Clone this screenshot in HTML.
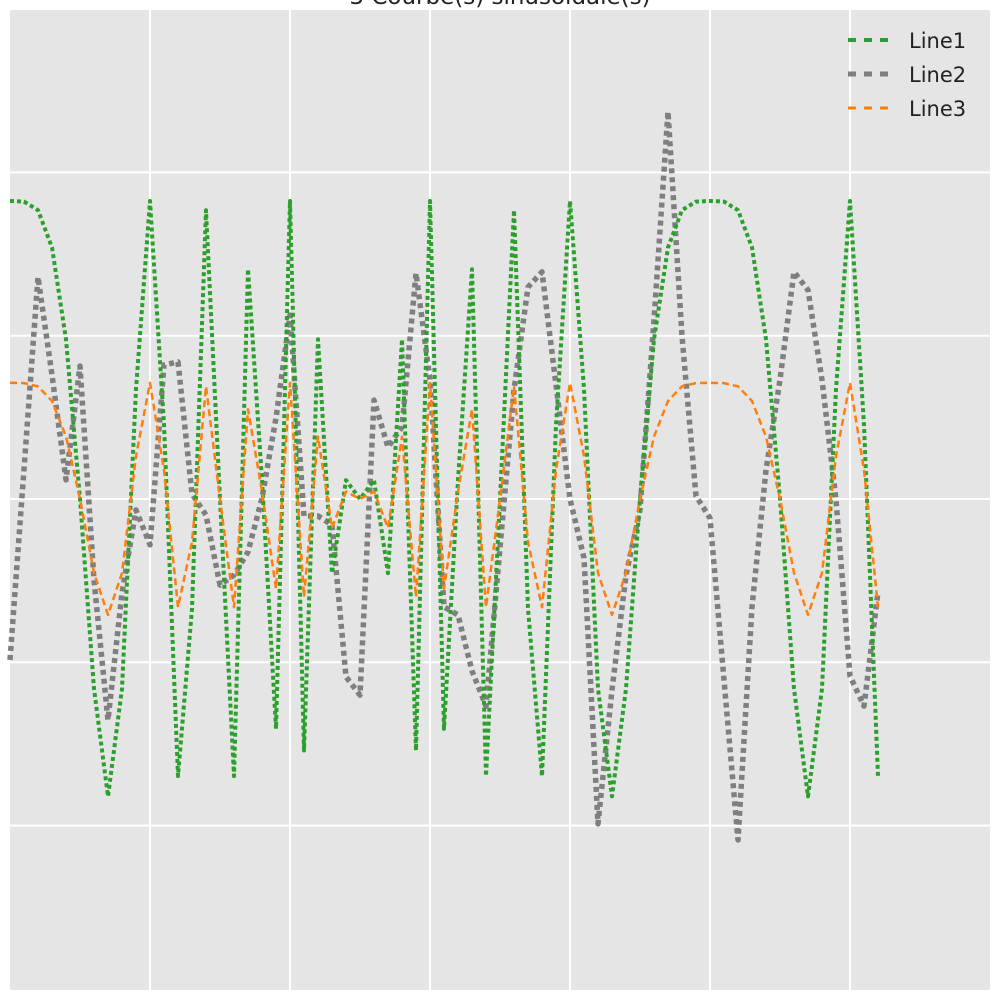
<!DOCTYPE html>
<html><head><meta charset="utf-8"><style>
html,body{margin:0;padding:0;background:#fff;}
svg{display:block;font-family:"DejaVu Sans","Liberation Sans",sans-serif;}
</style></head><body>
<svg id="chart" width="1000" height="1000" viewBox="0 0 1000 1000">
<rect x="10" y="10" width="980" height="980" fill="#e5e5e5"/>
<g id="grid"></g>
<g id="series"></g>
<text x="500" y="4" text-anchor="middle" font-size="23" fill="#222">3 Courbe(s) sinusoïdale(s)</text>
<g>
 <g><line x1="848" y1="40" x2="890" y2="40" stroke="#2ca02c" stroke-width="4" stroke-dasharray="8 8"/><text x="909" y="48" font-size="21" fill="#222">Line1</text></g>
 <g><line x1="848" y1="74" x2="890" y2="74" stroke="#7f7f7f" stroke-width="5" stroke-dasharray="8 8"/><text x="909" y="82" font-size="21" fill="#222">Line2</text></g>
 <g><line x1="848" y1="108" x2="890" y2="108" stroke="#ff7f0e" stroke-width="3" stroke-dasharray="8 8"/><text x="909" y="116" font-size="21" fill="#222">Line3</text></g>
</g>
</svg>
<script>
const xTicks=[1,2,3,4,5,6];
const yTicks=[-1.096,-0.548,0,0.548,1.096];
const xValues=[];for(let k=0;k<=62;k++)xValues.push(k/10);
const line1=[1,0.998,0.969,0.844,0.536,0,-0.637,-0.998,-0.637,0.369,1,0.249,-0.930,-0.368,0.969,0,-0.930,0.771,0.063,-0.771,1,-0.844,0.536,-0.249,0.063,0,0.063,-0.249,0.536,-0.844,1,-0.771,0.063,0.771,-0.930,0,0.969,-0.368,-0.930,0.249,1,0.369,-0.637,-0.998,-0.637,0,0.536,0.844,0.969,0.998,1,0.998,0.969,0.844,0.536,0,-0.637,-0.998,-0.637,0.369,1,0.249,-0.930];
const line2=[-0.54,0.10,0.745,0.416,0.064,0.446,-0.272,-0.742,-0.315,-0.037,-0.154,0.45,0.46,0.017,-0.054,-0.289,-0.255,-0.178,0.003,0.272,0.617,-0.057,-0.057,-0.087,-0.597,-0.658,0.332,0.174,0.242,0.758,0.40,-0.362,-0.389,-0.577,-0.695,-0.164,0.366,0.711,0.762,0.383,0,-0.198,-1.09,-0.641,-0.255,-0.037,0.60,1.30,0.547,0.01,-0.064,-0.607,-1.144,-0.362,0.097,0.40,0.762,0.701,0.40,-0.003,-0.594,-0.695,-0.312];
const line3=[0.39,0.389,0.378,0.329,0.209,0,-0.248,-0.389,-0.248,0.144,0.39,0.097,-0.363,-0.144,0.378,0,-0.363,0.301,0.025,-0.301,0.39,-0.329,0.209,-0.097,0.025,0,0.025,-0.097,0.209,-0.329,0.39,-0.301,0.025,0.301,-0.363,0,0.378,-0.144,-0.363,0.097,0.39,0.144,-0.248,-0.389,-0.248,0,0.209,0.329,0.378,0.389,0.39,0.389,0.378,0.329,0.209,0,-0.248,-0.389,-0.248,0.144,0.39,0.097,-0.363];
const NS='http://www.w3.org/2000/svg';
function xs(v){return 10+140*v;}
function ys(v){return 499-298*v;}
const grid=document.getElementById('grid');
xTicks.forEach(t=>{const l=document.createElementNS(NS,'line');
l.setAttribute('x1',xs(t));l.setAttribute('x2',xs(t));l.setAttribute('y1',10);l.setAttribute('y2',990);
l.setAttribute('stroke','#fff');l.setAttribute('stroke-width','2');


grid.appendChild(l);});
yTicks.forEach(t=>{const l=document.createElementNS(NS,'line');
l.setAttribute('y1',ys(t));l.setAttribute('y2',ys(t));l.setAttribute('x1',10);l.setAttribute('x2',990);
l.setAttribute('stroke','#fff');l.setAttribute('stroke-width','2');


grid.appendChild(l);});
const ser=document.getElementById('series');
function draw(vals,color,w,dash,name){
 const p=document.createElementNS(NS,'polyline');
 p.setAttribute('points',vals.map((v,i)=>xs(xValues[i]).toFixed(1)+','+ys(v).toFixed(1)).join(' '));
 p.setAttribute('fill','none');p.setAttribute('stroke',color);p.setAttribute('stroke-width',w);
 p.setAttribute('stroke-dasharray',dash);p.setAttribute('stroke-linejoin','round');
 
 
 ser.appendChild(p);
}
draw(line2,'#7f7f7f',5.5,'5 4','line2-series');
draw(line1,'#2ca02c',4,'4 3','line1-series');
draw(line3,'#ff7f0e',2.5,'7 4','line3-series');
</script>
</body></html>
